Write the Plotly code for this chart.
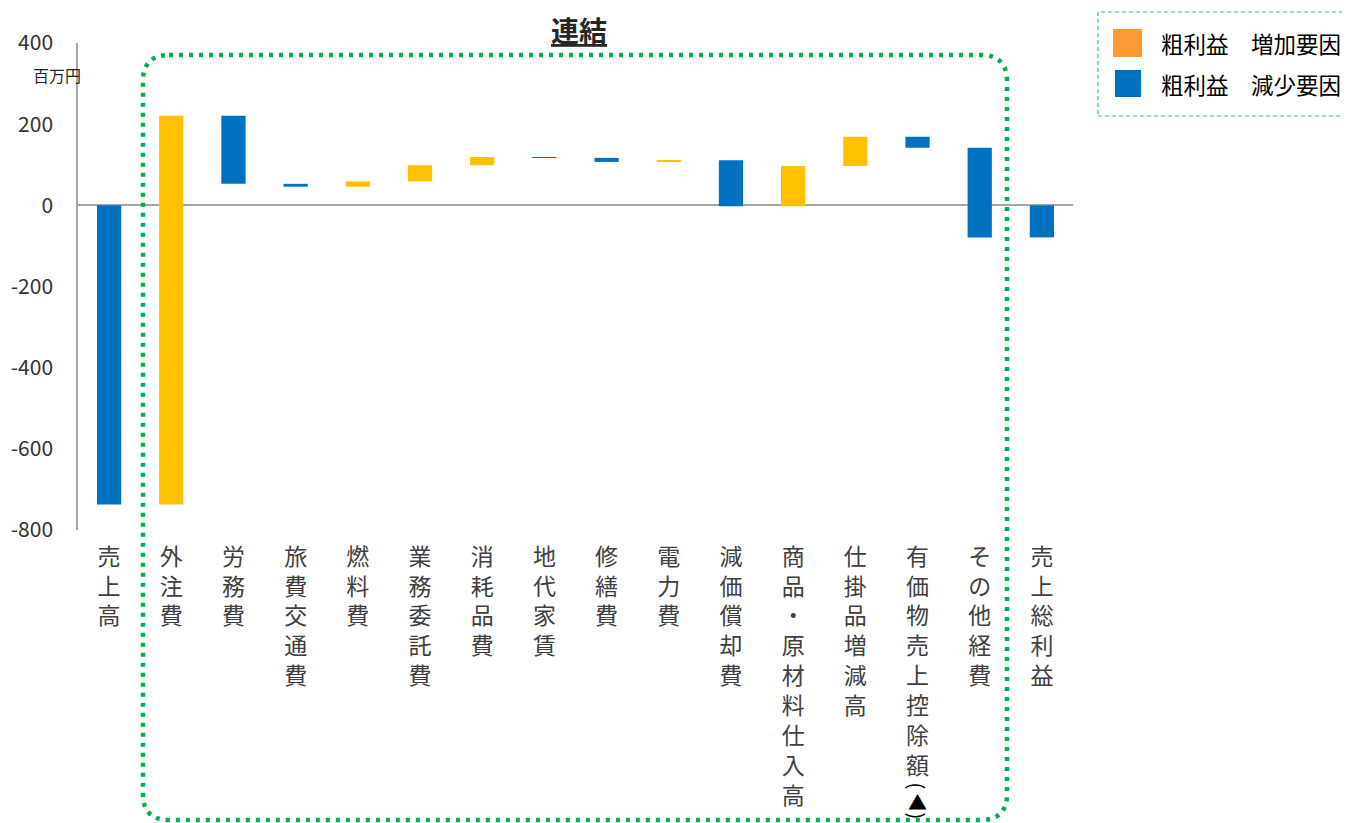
import plotly.graph_objects as go

# ---- data (百万円) ----
categories = ["売上高", "外注費", "労務費", "旅費交通費", "燃料費", "業務委託費", "消耗品費",
              "地代家賃", "修繕費", "電力費", "減価償却費", "商品・原材料仕入高", "仕掛品増減高",
              "有価物売上控除額", "その他経費", "売上総利益"]
changes = [-737, 958, -168, -7, 13, 40, 20, -2, -10, 4, -113, 99, 72, -27, -221, -79]
measures = ["relative"] * 15 + ["total"]
y_ticks = [400, 200, 0, -200, -400, -600, -800]
y_tick_labels = ["400", "200", "0", "-200", "-400", "-600", "-800"]
legend_labels = ["粗利益　増加要因", "粗利益　減少要因"]
title_text = "連結"
unit_text = "百万円"
suffix_parts = ["(", "▲", ")"]  # "(▲)" shown vertically under 有価物売上控除額

YELLOW = "#FFC000"
BLUE = "#0070C0"
ORANGE = "#FF9933"
GREEN = "#00B050"
FONT = "Noto Sans CJK JP"

PAGE_OFF = 8                     # default body margin of the html page
W, H = 1350, 823                 # window size
L, R, T, B = 78, 1073, 43, 530   # plot area in window pixels


def px_x(px):
    return (px - L) / (R - L)


def px_y(py):
    return (B - py) / (B - T)


tick_text = ["<br>".join(list(c)) for c in categories]

fig = go.Figure()
fig.add_trace(go.Waterfall(
    x=categories,
    y=changes,
    measure=measures,
    width=0.39,
    increasing=dict(marker=dict(color=YELLOW, line=dict(width=0))),
    decreasing=dict(marker=dict(color=BLUE, line=dict(width=0))),
    totals=dict(marker=dict(color=BLUE, line=dict(width=0))),
    connector=dict(visible=False),
    showlegend=False,
    hoverinfo="x+y",
))

fig.update_layout(
    width=W - PAGE_OFF, height=H - PAGE_OFF,
    margin=dict(l=L - PAGE_OFF, r=W - R, t=T - PAGE_OFF, b=H - B, pad=0),
    plot_bgcolor="white", paper_bgcolor="white",
    font=dict(family=FONT, color="#404040"),
    showlegend=False,
    xaxis=dict(
        tickmode="array", tickvals=categories, ticktext=tick_text,
        tickfont=dict(size=23, color="#404040"),
        showline=False, showgrid=False, zeroline=False,
        ticks="outside", ticklen=6, tickcolor="rgba(0,0,0,0)",
        tickangle=0, automargin=False,
    ),
    yaxis=dict(
        range=[-800, 400], tickmode="array", tickvals=y_ticks, ticktext=y_tick_labels,
        tickfont=dict(size=21, color="#333333"),
        showline=True, linecolor="#A6A6A6", linewidth=1.5,
        showgrid=False, zeroline=True, zerolinecolor="#A6A6A6", zerolinewidth=1.5,
        ticks="outside", ticklen=19, tickcolor="rgba(0,0,0,0)", automargin=False,
    ),
)

annotations = []
# title
annotations.append(dict(text="<b><u>" + title_text + "</u></b>", xref="paper", yref="paper",
                        x=px_x(579), y=px_y(30), xanchor="center", yanchor="middle",
                        showarrow=False, font=dict(size=28, color="#262626", family=FONT)))
# unit
annotations.append(dict(text=unit_text, xref="paper", yref="paper",
                        x=px_x(83), y=px_y(75), xanchor="right", yanchor="middle",
                        showarrow=False, font=dict(size=16, color="#262626", family=FONT)))
# (▲) for 有価物売上控除額, written vertically
for part, cy, ang, sz in zip(suffix_parts, [786, 801, 816], [90, 0, 90], [20, 19, 20]):
    annotations.append(dict(text=part, xref="x", yref="paper", x=categories[13], y=px_y(cy),
                            xanchor="center", yanchor="middle", showarrow=False, textangle=ang,
                            font=dict(size=sz, color="#000000", family=FONT)))
# legend texts
for lab, cy in zip(legend_labels, [43, 84]):
    annotations.append(dict(text=lab, xref="paper", yref="paper", x=px_x(1159), y=px_y(cy),
                            xanchor="left", yanchor="middle", showarrow=False,
                            font=dict(size=22.5, color="#000000", family=FONT)))
fig.update_layout(annotations=annotations)

shapes = []
# legend box and swatches
shapes.append(dict(type="rect", xref="paper", yref="paper",
                   x0=px_x(1098), x1=px_x(1347), y0=px_y(116), y1=px_y(12),
                   line=dict(color="#33CC66", width=1.2, dash="4px,3px"), fillcolor="rgba(0,0,0,0)"))
shapes.append(dict(type="rect", xref="paper", yref="paper",
                   x0=px_x(1113), x1=px_x(1142), y0=px_y(57), y1=px_y(29),
                   line=dict(width=0), fillcolor=ORANGE))
shapes.append(dict(type="rect", xref="paper", yref="paper",
                   x0=px_x(1115), x1=px_x(1141), y0=px_y(97), y1=px_y(70),
                   line=dict(width=0), fillcolor=BLUE))
# green dotted rounded frame
x0p, x1p, y0p, y1p, r = 143, 1007, 55, 820, 26


def P(x, y):
    return "%.5f,%.5f" % (px_x(x), px_y(y))


path = ("M" + P(x0p + r, y0p) + " L" + P(x1p - r, y0p) +
        " Q" + P(x1p, y0p) + " " + P(x1p, y0p + r) +
        " L" + P(x1p, y1p - r) +
        " Q" + P(x1p, y1p) + " " + P(x1p - r, y1p) +
        " L" + P(x0p + r, y1p) +
        " Q" + P(x0p, y1p) + " " + P(x0p, y1p - r) +
        " L" + P(x0p, y0p + r) +
        " Q" + P(x0p, y0p) + " " + P(x0p + r, y0p) + " Z")
shapes.append(dict(type="path", xref="paper", yref="paper", path=path,
                   line=dict(color=GREEN, width=4.5, dash="4px,6px"), fillcolor="rgba(0,0,0,0)",
                   layer="above"))
fig.update_layout(shapes=shapes)

fig.write_html("out.html")
